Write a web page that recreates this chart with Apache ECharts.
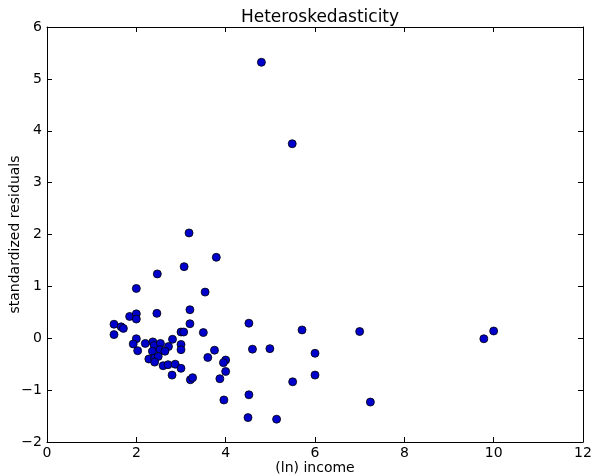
<!DOCTYPE html>
<html>
<head>
<meta charset="utf-8">
<script src="https://cdn.jsdelivr.net/npm/echarts@6/dist/echarts.min.js"></script>
<style>
  html, body { margin: 0; padding: 0; background: #fff; }
  #chart { width: 594px; height: 476px; }
</style>
</head>
<body>
<div id="chart"></div>
<script>
// (ln) income for each observation
var income = [
  1.5, 1.5, 1.66, 1.71, 1.85, 2.0, 2.0, 2.0, 2.46, 2.47, 3.07, 3.18, 3.79, 3.54,
  3.2, 3.2, 3.0, 3.06, 3.5, 4.52, 5.71, 7.0, 9.78, 10.0, 4.8, 5.49,
  2.0, 1.93, 2.03, 2.2, 2.37, 2.4, 2.54, 2.81, 2.72, 3.0, 3.0, 2.36, 2.53, 2.64,
  2.28, 2.41, 2.49, 2.41, 2.6, 2.71, 2.87, 3.0, 2.8, 3.21, 3.26, 3.75, 3.6, 3.87,
  4.0, 3.95, 4.0, 4.6, 4.99, 6.0, 6.0, 5.5, 3.96, 4.52, 7.24, 4.5, 5.14
];
// standardized residuals, same order
var residuals = [
  0.27, 0.07, 0.22, 0.19, 0.42, 0.47, 0.37, 0.96, 0.48, 1.24, 1.38, 2.03, 1.56, 0.89,
  0.55, 0.28, 0.12, 0.12, 0.11, 0.29, 0.16, 0.13, -0.01, 0.14, 5.32, 3.75,
  -0.01, -0.11, -0.24, -0.10, -0.07, -0.14, -0.10, -0.02, -0.16, -0.12, -0.22, -0.25, -0.22, -0.25,
  -0.40, -0.38, -0.35, -0.46, -0.53, -0.51, -0.50, -0.58, -0.71, -0.80, -0.76, -0.23, -0.37, -0.78,
  -0.42, -0.47, -0.64, -0.21, -0.20, -0.29, -0.71, -0.84, -1.19, -1.09, -1.23, -1.53, -1.56
];

var points = income.map(function (x, i) { return [x, residuals[i]]; });

var font = 'DejaVu Sans';
function minus(v) { return String(v).replace('-', '\u2212'); }

var chart = echarts.init(document.getElementById('chart'));

var frameLine = { show: true, onZero: false, lineStyle: { color: '#000', width: 1 } };
var tick = { show: true, inside: true, length: 5, lineStyle: { color: '#000' } };

chart.setOption({
  animation: false,
  backgroundColor: '#fff',
  title: {
    text: 'Heteroskedasticity',
    left: 315, top: 4, textAlign: 'center',
    textStyle: { fontFamily: font, fontSize: 17, fontWeight: 'normal', color: '#000' }
  },
  grid: { left: 47, right: 11, top: 27, bottom: 34, outerBoundsMode: 'none' },
  xAxis: [{
    type: 'value', min: 0, max: 12, interval: 2,
    name: '(ln) income', nameLocation: 'middle', nameGap: 19, nameMoveOverlap: false,
    nameTextStyle: { fontFamily: font, fontSize: 14, color: '#000' },
    axisLine: frameLine, axisTick: tick, splitLine: { show: false },
    axisLabel: { fontFamily: font, fontSize: 14, color: '#000', margin: 4, formatter: minus }
  }, {
    type: 'value', min: 0, max: 12, interval: 2, position: 'top',
    axisLine: frameLine, axisTick: tick, splitLine: { show: false },
    axisLabel: { show: false }
  }],
  yAxis: [{
    type: 'value', min: -2, max: 6, interval: 1,
    name: 'standardized residuals', nameLocation: 'middle', nameGap: 25, nameMoveOverlap: false,
    nameTextStyle: { fontFamily: font, fontSize: 14, color: '#000' },
    axisLine: frameLine, axisTick: tick, splitLine: { show: false },
    axisLabel: { fontFamily: font, fontSize: 14, color: '#000', margin: 5, formatter: minus }
  }, {
    type: 'value', min: -2, max: 6, interval: 1, position: 'right',
    axisLine: frameLine, axisTick: tick, splitLine: { show: false },
    axisLabel: { show: false }
  }],
  series: [{
    type: 'scatter',
    data: points,
    symbolSize: 8,
    itemStyle: { color: '#0000cc', borderColor: '#000', borderWidth: 0.8, opacity: 1 }
  }]
});
</script>
</body>
</html>
